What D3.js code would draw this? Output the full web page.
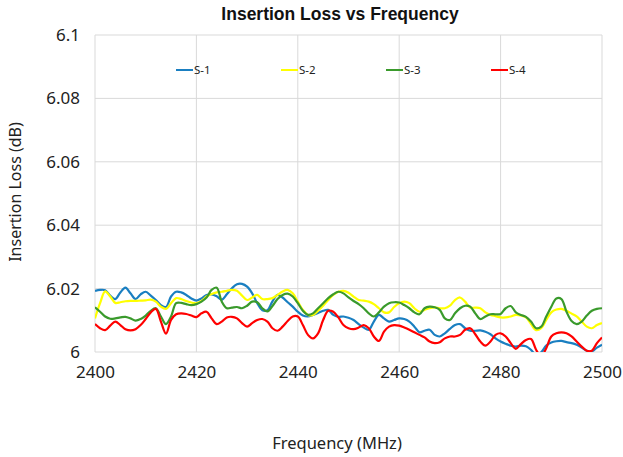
<!DOCTYPE html>
<html>
<head>
<meta charset="utf-8">
<script src="https://cdn.jsdelivr.net/npm/d3@7"></script>
<style>
  body { margin: 0; background: #fff; }
  .axis text { font-family: "Noto Sans", sans-serif; font-size: 17px; fill: #222; }
  .axis path, .axis line { stroke: none; }
  .grid line { stroke: #d9d9d9; stroke-width: 1; }
</style>
</head>
<body>
<div id="canvas"></div>
<script>
// chart values
var seriesNames = ['S-1', 'S-2', 'S-3', 'S-4'];
var seriesColors = ['#1a7fc1', '#ffff00', '#3a9a2c', '#ff0000'];
var freq = d3.range(2400, 2501, 1); // MHz, one point per MHz
var xTicks = [2400, 2420, 2440, 2460, 2480, 2500];
var yTicks = [6, 6.02, 6.04, 6.06, 6.08, 6.1];

var s1 = [6.0193,6.0196,6.0195,6.0178,6.0167,6.0188,6.0203,6.0185,6.0167,6.0182,6.0190,6.0178,6.0164,6.0148,6.0142,6.0175,6.0190,
  6.0188,6.0180,6.0169,6.0162,6.0169,6.0180,6.0182,6.0176,6.0165,6.0182,6.0201,6.0214,6.0215,6.0206,6.0185,6.0154,6.0132,
  6.0132,6.0160,6.0180,6.0172,6.0157,6.0143,6.0127,6.0115,6.0112,6.0117,6.0123,6.0130,6.0133,6.0117,6.0111,6.0112,6.0108,
  6.0101,6.0088,6.0077,6.0070,6.0096,6.0117,6.0106,6.0096,6.0101,6.0106,6.0104,6.0096,6.0080,6.0062,6.0067,6.0070,
  6.0054,6.0049,6.0059,6.0073,6.0085,6.0088,6.0075,6.0067,6.0067,6.0068,6.0064,6.0056,6.0043,6.0033,6.0026,6.0020,6.0017,
  6.0020,6.0018,6.0007,5.9991,5.9999,6.0020,6.0030,6.0034,6.0035,6.0031,6.0028,6.0023,6.0014,6.0004,6.0002,6.0014,6.0023];

var s2 = [6.0106,6.0154,6.0191,6.0175,6.0155,6.0157,6.0160,6.0161,6.0161,6.0162,6.0163,6.0165,6.0159,6.0143,6.0136,6.0154,6.0170,
  6.0167,6.0161,6.0156,6.0154,6.0161,6.0175,6.0183,6.0188,6.0190,6.0193,6.0196,6.0193,6.0178,6.0164,6.0172,6.0180,6.0167,
  6.0167,6.0170,6.0180,6.0191,6.0196,6.0185,6.0159,6.0133,6.0117,6.0117,6.0130,6.0146,6.0164,6.0180,6.0190,6.0193,6.0187,
  6.0175,6.0164,6.0162,6.0159,6.0151,6.0138,6.0125,6.0125,6.0142,6.0154,6.0159,6.0154,6.0138,6.0127,6.0133,6.0138,
  6.0141,6.0138,6.0138,6.0146,6.0164,6.0172,6.0159,6.0140,6.0140,6.0138,6.0125,6.0117,6.0113,6.0109,6.0109,6.0112,6.0117,
  6.0115,6.0109,6.0088,6.0069,6.0075,6.0101,6.0125,6.0134,6.0136,6.0130,6.0121,6.0112,6.0096,6.0080,6.0075,6.0085,6.0091];

var s3 = [6.0141,6.0127,6.0112,6.0105,6.0106,6.0109,6.0111,6.0106,6.0099,6.0104,6.0115,6.0130,6.0138,6.0112,6.0088,6.0112,6.0154,
  6.0155,6.0151,6.0148,6.0151,6.0159,6.0172,6.0196,6.0203,6.0159,6.0138,6.0140,6.0142,6.0138,6.0146,6.0159,6.0157,6.0138,
  6.0128,6.0145,6.0167,6.0180,6.0184,6.0175,6.0154,6.0130,6.0117,6.0122,6.0138,6.0154,6.0170,6.0182,6.0190,6.0185,6.0172,
  6.0161,6.0151,6.0138,6.0122,6.0112,6.0125,6.0143,6.0154,6.0157,6.0156,6.0148,6.0138,6.0125,6.0119,6.0138,6.0143,
  6.0141,6.0133,6.0106,6.0101,6.0122,6.0138,6.0146,6.0143,6.0122,6.0104,6.0112,6.0119,6.0119,6.0120,6.0138,6.0145,6.0125,
  6.0117,6.0111,6.0096,6.0075,6.0080,6.0112,6.0143,6.0169,6.0167,6.0127,6.0098,6.0088,6.0096,6.0115,6.0130,6.0136,6.0138];

var s4 = [6.0088,6.0075,6.0069,6.0083,6.0096,6.0085,6.0072,6.0068,6.0072,6.0085,6.0104,6.0125,6.0136,6.0096,6.0058,6.0101,6.0119,
  6.0122,6.0120,6.0115,6.0110,6.0122,6.0127,6.0106,6.0088,6.0096,6.0109,6.0111,6.0106,6.0091,6.0080,6.0091,6.0101,6.0104,
  6.0096,6.0075,6.0067,6.0080,6.0098,6.0112,6.0112,6.0085,6.0054,6.0043,6.0059,6.0101,6.0130,6.0127,6.0109,6.0085,6.0075,
  6.0072,6.0077,6.0085,6.0075,6.0049,6.0035,6.0064,6.0080,6.0085,6.0083,6.0077,6.0070,6.0062,6.0054,6.0046,6.0033,
  6.0028,6.0031,6.0043,6.0049,6.0049,6.0054,6.0070,6.0075,6.0056,6.0033,6.0020,6.0033,6.0054,6.0059,6.0049,6.0028,6.0010,
  6.0025,6.0038,6.0041,6.0007,5.9986,6.0012,6.0049,6.0059,6.0062,6.0059,6.0049,6.0033,6.0017,6.0004,6.0004,6.0028,6.0046];

var seriesValues = [s1, s2, s3, s4];

var W = 623, H = 457,
    m = {t:35, r:21, b:105, l:95},
    w = W - m.l - m.r,
    h = H - m.t - m.b;

var svg = d3.select('#canvas')
    .append('svg')
    .attr('width', W)
    .attr('height', H);

var plot = svg.append('g')
    .attr('transform', 'translate(' + m.l + ',' + m.t + ')');

// Scale
var scaleX = d3.scaleLinear().domain([2400, 2500]).range([0, w]);
var scaleY = d3.scaleLinear().domain([6, 6.1]).range([h, 0]);

// gridlines
plot.append('g').attr('class', 'grid')
    .selectAll('line').data(xTicks).enter().append('line')
    .attr('x1', function(d){ return scaleX(d); })
    .attr('x2', function(d){ return scaleX(d); })
    .attr('y1', 0).attr('y2', h);
plot.append('g').attr('class', 'grid')
    .selectAll('line').data(yTicks).enter().append('line')
    .attr('x1', 0).attr('x2', w)
    .attr('y1', function(d){ return scaleY(d); })
    .attr('y2', function(d){ return scaleY(d); });

// Axis
var axisX = d3.axisBottom().scale(scaleX).tickValues(xTicks).tickSize(0).tickPadding(14)
    .tickFormat(d3.format('d'));
var axisY = d3.axisLeft().scale(scaleY).tickValues(yTicks).tickSize(0).tickPadding(15)
    .tickFormat(function(d){ return d3.format('')(+d.toFixed(2)); });

plot.append('g').attr('class', 'axis axis-x')
    .attr('transform', 'translate(0,' + h + ')')
    .call(axisX);
plot.append('g').attr('class', 'axis axis-y').call(axisY);

// clip for lines dipping below 6
plot.append('clipPath').attr('id', 'clip')
    .append('rect').attr('x', 0).attr('y', 0).attr('width', w).attr('height', h);

var line = d3.line()
    .x(function(d){ return scaleX(d.f); })
    .y(function(d){ return scaleY(d.v); })
    .curve(d3.curveCatmullRom.alpha(0.5));

var seriesData = seriesNames.map(function(name, i){
  return {
    name: name,
    color: seriesColors[i],
    values: freq.map(function(f, j){ return {f: f, v: seriesValues[i][j]}; })
  };
});

plot.append('g').attr('clip-path', 'url(#clip)')
    .selectAll('path').data(seriesData).enter().append('path')
    .attr('d', function(d){ return line(d.values); })
    .attr('fill', 'none')
    .attr('stroke', function(d){ return d.color; })
    .attr('stroke-width', 2.2)
    .attr('stroke-linejoin', 'round');

// legend
var legend = plot.append('g').attr('transform', 'translate(0,' + (70 - m.t) + ')');
var item = legend.selectAll('g').data(seriesData).enter().append('g')
    .attr('transform', function(d, i){ return 'translate(' + (81 + i * 105) + ',0)'; });
item.append('line')
    .attr('x1', 0).attr('x2', 17).attr('y1', 0).attr('y2', 0)
    .attr('stroke', function(d){ return d.color; })
    .attr('stroke-width', 2);
item.append('text')
    .attr('x', 18).attr('y', 4)
    .style('font-family', '"Noto Sans", sans-serif')
    .style('font-size', '11.5px')
    .style('fill', '#222')
    .text(function(d){ return d.name; });

// titles
svg.append('text')
    .attr('x', 340).attr('y', 20)
    .attr('text-anchor', 'middle')
    .style('font-family', '"Liberation Sans", Arial, sans-serif')
    .style('font-weight', 'bold')
    .style('font-size', '17.5px')
    .style('fill', '#111')
    .text('Insertion Loss vs Frequency');

svg.append('text')
    .attr('x', 337).attr('y', 449)
    .attr('text-anchor', 'middle')
    .style('font-family', '"Noto Sans", sans-serif')
    .style('font-size', '16.5px')
    .style('fill', '#222')
    .text('Frequency (MHz)');

svg.append('text')
    .attr('transform', 'translate(21,192) rotate(-90)')
    .attr('text-anchor', 'middle')
    .style('font-family', '"Noto Sans", sans-serif')
    .style('font-size', '16px')
    .style('fill', '#222')
    .text('Insertion Loss (dB)');
</script>
</body>
</html>
